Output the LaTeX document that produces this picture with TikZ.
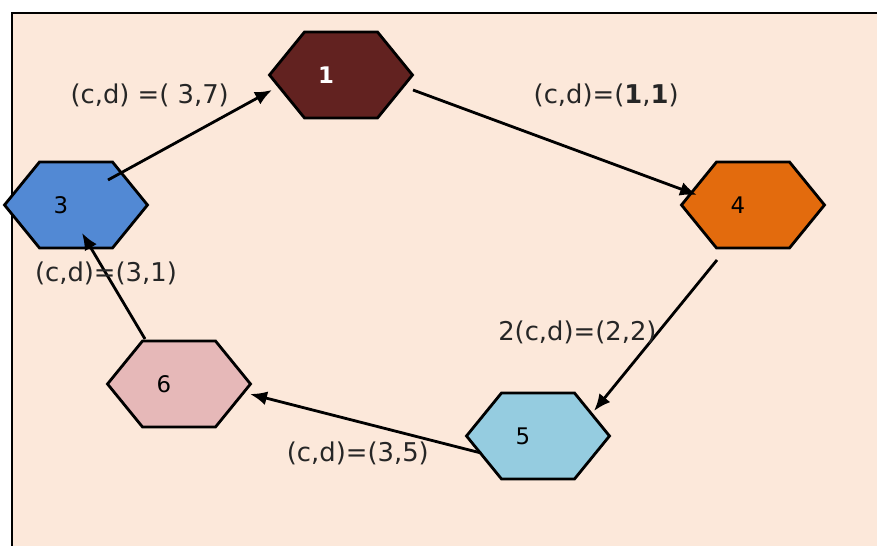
\documentclass[tikz,border=0pt]{standalone}
\usepackage{fontspec}
\setmainfont{DejaVu Sans}
\usetikzlibrary{positioning, arrows.meta, calc, shapes.symbols}
\definecolor{bgpeach}{HTML}{FCE8DA}
\definecolor{hexone}{HTML}{622220}
\definecolor{hexthree}{HTML}{5289D4}
\definecolor{hexfour}{HTML}{E36B0D}
\definecolor{hexfive}{HTML}{95CCE0}
\definecolor{hexsix}{HTML}{E6B8B8}

\begin{document}
\begin{tikzpicture}[
  font=\fontsize{14.7}{17}\selectfont,
  hexa/.style={signal, signal to=east and west, signal pointer angle=101.7,
               draw=black, line width=1.6pt, minimum width=2.86cm, minimum height=1.72cm,
               inner sep=0pt, font=\fontsize{13}{15}\selectfont},
  arc/.style={-{Latex[length=3.4mm, width=2.8mm]}, line width=1.6pt, draw=black},
  lbl/.style={text=black!85, inner sep=0pt}
]
\useasboundingbox (0,0) rectangle (17.54,10.92);
\fill[bgpeach] (0.24,0) rectangle (17.54,10.66);
\draw[line width=1.5pt] (0.24,0) -- (0.24,10.66) -- (17.54,10.66);

\node[hexa, fill=hexone, text=white, font=\fontsize{13}{15}\selectfont\bfseries]
  (n1) at (6.82,9.42) {1\hspace*{0.6cm}};
\node[hexa, fill=hexthree] (n3) at (1.52,6.82) {3\hspace*{0.6cm}};
\node[hexa, fill=hexfour] (n4) at (15.06,6.82) {4\hspace*{0.6cm}};
\node[hexa, fill=hexsix] (n6) at (3.58,3.24) {6\hspace*{0.6cm}};
\node[hexa, fill=hexfive] (n5) at (10.76,2.20) {5\hspace*{0.6cm}};

\draw[arc] ([shift={(0.64,0.50)}]n3.center) -- node[lbl, pos=0.8, anchor=south east, xshift=-0.18cm]
           {(c,d) =( 3,7)} ([shift={(-1.38,-0.30)}]n1.center);
\draw[arc] ([shift={(1.44,-0.30)}]n1.center) -- node[lbl, pos=0.42, above right=0.52cm and 0cm]
           {(c,d)=(\textbf{1},\textbf{1})} ([shift={(-1.12,0.20)}]n4.center);
\draw[arc] ([shift={(-0.72,-1.10)}]n4.center) -- node[lbl, pos=0.48, anchor=east]
           {2(c,d)=(2,2)} ([shift={(1.12,0.50)}]n5.center);
\draw[arc] ([shift={(-1.14,-0.34)}]n5.center) -- node[lbl, pos=0.22, anchor=north east]
           {(c,d)=(3,5)} ([shift={(1.42,-0.20)}]n6.center);
\draw[arc] ([shift={(-0.68,0.90)}]n6.center) -- node[lbl, pos=0.62]
           {(c,d)=(3,1)} ([shift={(0.12,-0.56)}]n3.center);

\end{tikzpicture}
\end{document}
